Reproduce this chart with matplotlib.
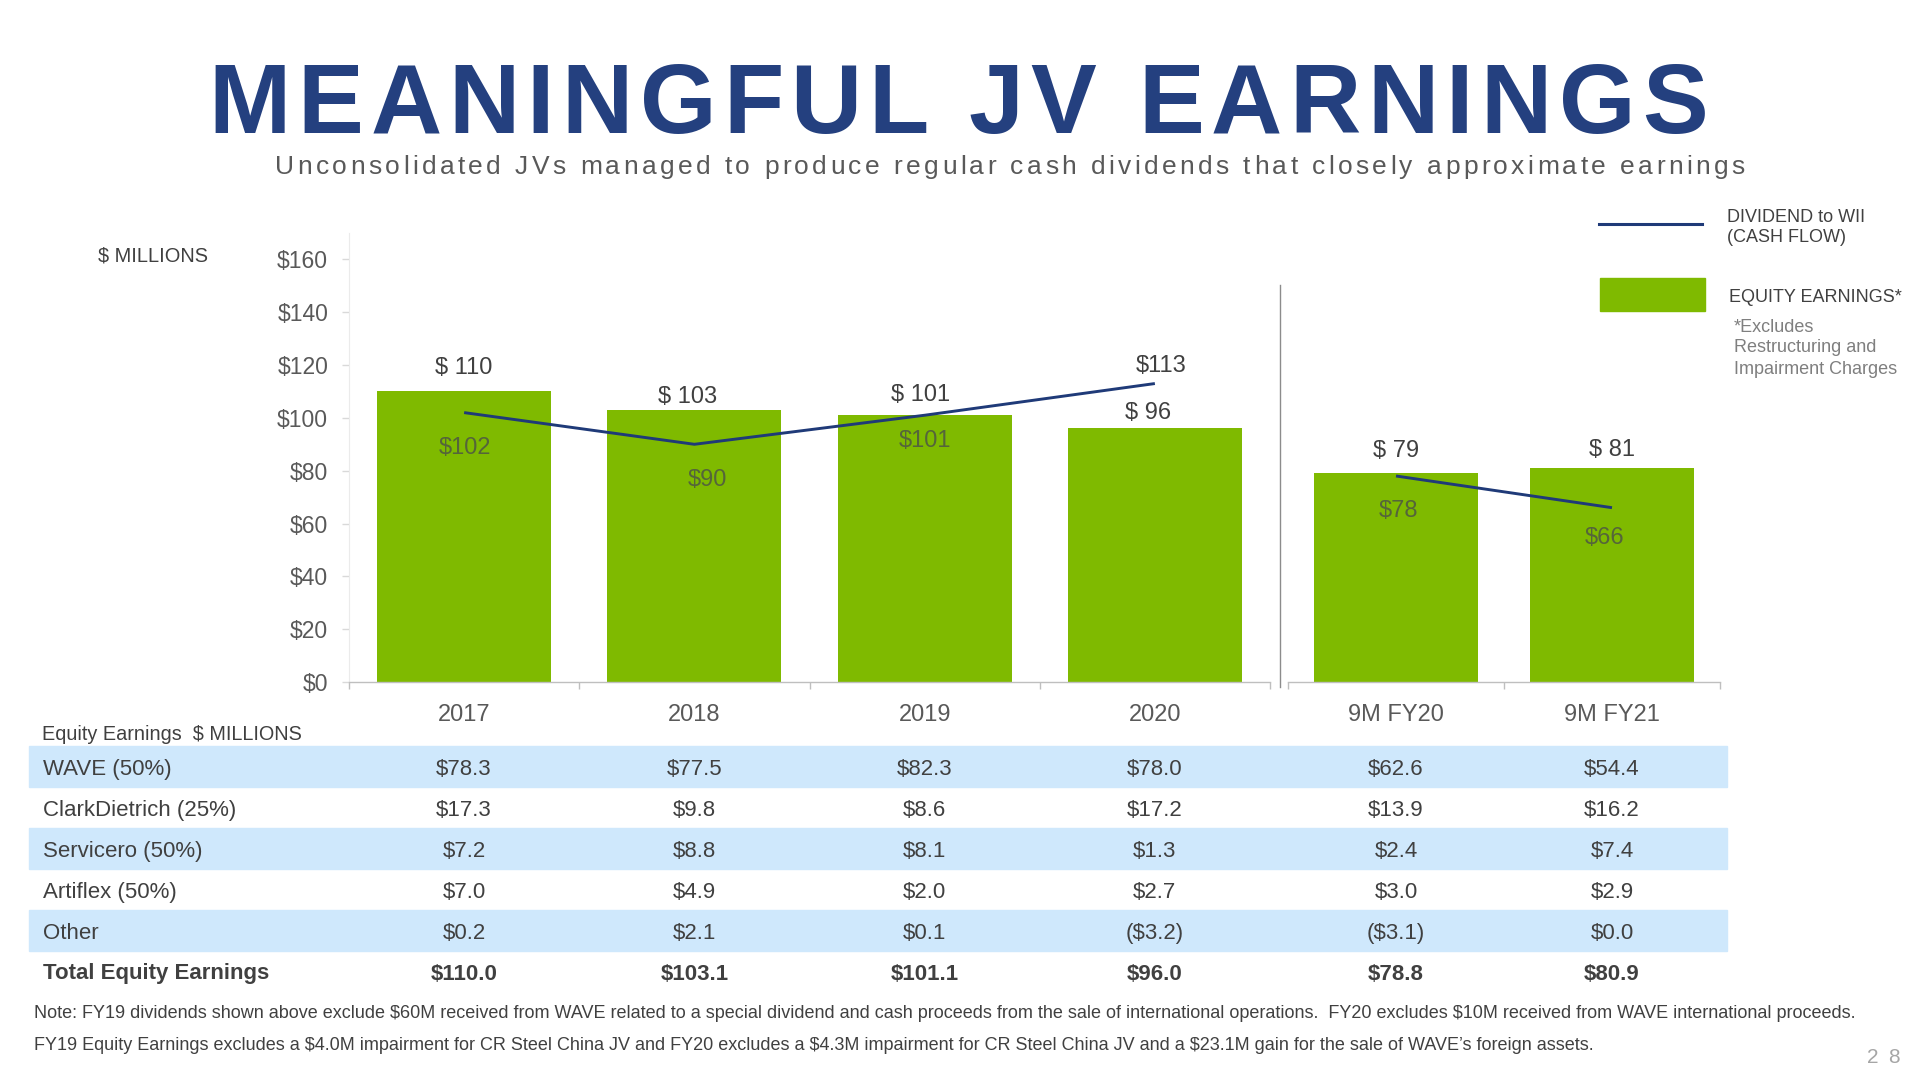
import numpy as np
import matplotlib
matplotlib.use('Agg')
import matplotlib.pyplot as plt
from matplotlib.transforms import blended_transform_factory
from matplotlib.patches import Rectangle
from matplotlib.lines import Line2D
from matplotlib.font_manager import FontProperties

plt.rcParams['font.family'] = ['Liberation Sans', 'DejaVu Sans']
plt.rcParams['text.parse_math'] = False

# ---------------- data ----------------
categories_full = ['2017', '2018', '2019', '2020']
categories_9m = ['9M FY20', '9M FY21']
equity_full = [110, 103, 101, 96]
equity_9m = [79, 81]
dividend_full = [102, 90, 101, 113]
dividend_9m = [78, 66]
y_ticks = [0, 20, 40, 60, 80, 100, 120, 140, 160]

row_labels = ['WAVE (50%)', 'ClarkDietrich (25%)', 'Servicero (50%)',
              'Artiflex (50%)', 'Other', 'Total Equity Earnings']
wave = [78.3, 77.5, 82.3, 78.0, 62.6, 54.4]
clark_dietrich = [17.3, 9.8, 8.6, 17.2, 13.9, 16.2]
servicero = [7.2, 8.8, 8.1, 1.3, 2.4, 7.4]
artiflex = [7.0, 4.9, 2.0, 2.7, 3.0, 2.9]
other = [0.2, 2.1, 0.1, -3.2, -3.1, 0.0]
total = [110.0, 103.1, 101.1, 96.0, 78.8, 80.9]

title = 'MEANINGFUL JV EARNINGS'
subtitle = ('Unconsolidated JVs managed to produce regular cash dividends '
            'that closely approximate earnings')
note1 = ('Note: FY19 dividends shown above exclude $60M received from WAVE related to a special '
         'dividend and cash proceeds from the sale of international operations.  FY20 excludes '
         '$10M received from WAVE international proceeds.')
note2 = ('FY19 Equity Earnings excludes a $4.0M impairment for CR Steel China JV and FY20 excludes '
         'a $4.3M impairment for CR Steel China JV and a $23.1M gain for the sale of WAVE\u2019s '
         'foreign assets.')

# ---------------- styles ----------------
GREEN = '#7FBA00'
NAVY = '#1F3A78'
TITLE_BLUE = '#24407F'
DARK = '#404040'
MID = '#595959'
BAND = '#CFE8FC'

W, H = 1920, 1080
fig = plt.figure(figsize=(19.2, 10.8), dpi=100)
fig.patch.set_facecolor('white')


def fx(px):
    return px / W


def fy(py):
    return 1 - py / H


def spaced_text(s, xc, yb, target_w, **kw):
    fp = FontProperties(family=['Liberation Sans'], weight=kw.get('weight', 'normal'),
                        size=kw['fontsize'])
    r = fig.canvas.get_renderer()

    def w(t):
        return r.get_text_width_height_descent(t, fp, ismath=False)[0]
    bar = w('|')
    pos = [0] + [w(s[:i] + '|') - bar for i in range(1, len(s))]
    spacing = (target_w - w(s)) / (len(s) - 1)
    x0 = xc - target_w / 2
    for i, ch in enumerate(s):
        if ch == ' ':
            continue
        fig.text(fx(x0 + pos[i] + i * spacing), fy(yb), ch, ha='left', va='baseline', **kw)


# ---------------- axes ----------------
ax1 = fig.add_axes([fx(349), fy(682), fx(1270) - fx(349), (682 - 233) / H])
ax2 = fig.add_axes([fx(1288), fy(682), fx(1720) - fx(1288), (682 - 233) / H])

bar_offsets_full = [(0, 23), (-7, 13), (-4, 20), (-7, 15)]
bar_offsets_9m = [(0, 22), (0, 18)]
div_offsets_full = [(1, -35), (13, -36), (0, -26), (6, 18)]
div_offsets_9m = [(2, -35), (-7, -30)]
div_label_colors_full = ['#55653A', '#55653A', '#55653A', DARK]
div_label_colors_9m = ['#55653A', '#55653A']

for ax, cats, eq, dv, boff, doff, dcol in [
        (ax1, categories_full, equity_full, dividend_full, bar_offsets_full, div_offsets_full,
         div_label_colors_full),
        (ax2, categories_9m, equity_9m, dividend_9m, bar_offsets_9m, div_offsets_9m,
         div_label_colors_9m)]:
    x = np.arange(len(cats))
    ax.bar(x, eq, width=0.755, color=GREEN, zorder=2)
    ax.plot(x, dv, color=NAVY, lw=2.1, zorder=3, solid_capstyle='butt')
    ax.set_xlim(-0.5, len(cats) - 0.5)
    ax.set_ylim(0, 170)
    ax.set_xticks(x)
    ax.set_xticklabels(cats)
    ax.set_xticks(np.arange(-0.5, len(cats)), minor=True)
    ax.tick_params(axis='x', which='major', length=0, pad=16, labelsize=17, labelcolor=MID)
    ax.tick_params(axis='x', which='minor', length=5, width=1, color='#BFBFBF')
    for s in ['top', 'right']:
        ax.spines[s].set_visible(False)
    ax.spines['bottom'].set_color('#BFBFBF')
    ax.spines['bottom'].set_linewidth(1.0)
    ax.set_facecolor('none')
    for xi, v, (dx, dy) in zip(x, eq, boff):
        ax.annotate(f'$ {v}', (xi, v), xytext=(dx, dy), textcoords='offset pixels',
                    ha='center', va='center', fontsize=17, color=DARK, zorder=5)
    for xi, v, (dx, dy), c in zip(x, dv, doff, dcol):
        ax.annotate(f'${v}', (xi, v), xytext=(dx, dy), textcoords='offset pixels',
                    ha='center', va='center', fontsize=17, color=c, zorder=5)

ax1.set_yticks(y_ticks)
ax1.set_yticklabels([f'${t}' for t in y_ticks])
ax1.tick_params(axis='y', length=5, width=1, color='#D9D9D9', pad=10, labelsize=16.5,
                labelcolor=MID)
ax1.spines['left'].set_color('#EBEBEB')
ax2.spines['left'].set_visible(False)
ax2.set_yticks([])

# divider between full years and 9 months
fig.add_artist(Line2D([fx(1280), fx(1280)], [fy(285), fy(687)], color='#8C8C8C', lw=1.0))

# ---------------- titles ----------------
spaced_text(title, 958, 133, 1500, fontsize=71, weight='bold', color=TITLE_BLUE)
spaced_text(subtitle, 1010, 174, 1470, fontsize=19, color=MID)

fig.text(fx(98), fy(256), '$ MILLIONS', ha='left', va='center', fontsize=14.4, color=DARK)

# ---------------- legend ----------------
fig.add_artist(Line2D([fx(1599), fx(1702)], [fy(224), fy(224)], color=NAVY, lw=2.2))
fig.text(fx(1727), fy(217), 'DIVIDEND to WII', ha='left', va='center', fontsize=13, color=DARK)
fig.text(fx(1727), fy(238), '(CASH FLOW)', ha='left', va='center', fontsize=13, color=DARK)
fig.add_artist(Rectangle((fx(1600), fy(311)), fx(1705) - fx(1600), (311 - 278) / H,
                         transform=fig.transFigure, color=GREEN))
fig.text(fx(1729), fy(297), 'EQUITY EARNINGS*', ha='left', va='center', fontsize=13, color=DARK)
for txt, yy in [('*Excludes', 327), ('Restructuring and', 348), ('Impairment Charges', 370)]:
    fig.text(fx(1734), fy(yy), txt, ha='left', va='center', fontsize=13, color='#7F7F7F')

# ---------------- table ----------------
fig.text(fx(42), fy(734), 'Equity Earnings  $ MILLIONS', ha='left', va='center',
         fontsize=14.3, color=DARK)


def fmt(v):
    return f'(${abs(v):.1f})' if v < 0 else f'${v:.1f}'


rows = [wave, clark_dietrich, servicero, artiflex, other, total]
row_y0, row_h = 766.5, 40.9
text_shift = 3
tr1 = blended_transform_factory(ax1.transData, fig.transFigure)
tr2 = blended_transform_factory(ax2.transData, fig.transFigure)
for i, (lab, vals) in enumerate(zip(row_labels, rows)):
    yc = row_y0 + i * row_h
    if i % 2 == 0 and i < 5:
        fig.add_artist(Rectangle((fx(29), fy(yc + row_h / 2)), fx(1727) - fx(29), row_h / H,
                                 transform=fig.transFigure, color=BAND, zorder=0))
    yt = yc + text_shift
    bold = 'bold' if i == 5 else 'normal'
    fig.text(fx(43), fy(yt), lab, ha='left', va='center', fontsize=16, color=DARK,
             weight=bold)
    for j, v in enumerate(vals):
        if j < 4:
            fig.text(j, fy(yt), fmt(v), transform=tr1, ha='center', va='center',
                     fontsize=16, color=DARK, weight=bold)
        else:
            fig.text(j - 4, fy(yt), fmt(v), transform=tr2, ha='center', va='center',
                     fontsize=16, color=DARK, weight=bold)

# ---------------- notes ----------------
fig.text(fx(34), fy(1013), note1, ha='left', va='center', fontsize=13, color=DARK)
fig.text(fx(34), fy(1045), note2, ha='left', va='center', fontsize=13, color=DARK)

spaced_text('28', 1883, 1063, 33, fontsize=15, color='#A6A6A6')

fig.savefig('out.png', dpi=100, facecolor='white')
